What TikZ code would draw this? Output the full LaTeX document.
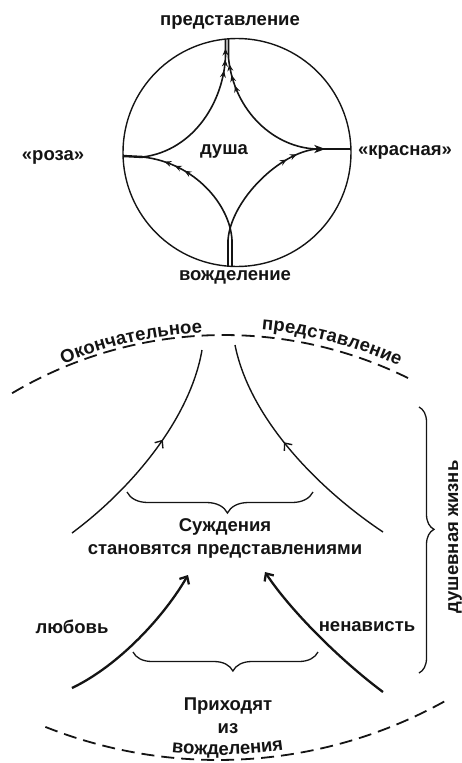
\documentclass[tikz,border=0pt]{standalone}
\usepackage{fontspec}
\setmainfont{Liberation Sans}
\usetikzlibrary{arrows.meta, calc, decorations.markings, decorations.pathreplacing, decorations.text}
\newcommand\arcfont{\fontsize{18.5}{22}\selectfont\bfseries}

\begin{document}
\begin{tikzpicture}[x=1pt, y=-1pt,
    % Styles
    word/.style={
        font=\fontsize{18.5}{23}\selectfont\bfseries,
        text=ink, inner sep=0pt, align=center
    },
    ring/.style={draw=ink, line width=1.4pt},
    flow/.style={draw=ink, line width=1.6pt},
    stub/.style={draw=ink, line width=2.4pt},
    feather/.style={
        postaction={decorate, decoration={markings,
            mark=between positions #1 step 0.07 with
                {\arrow[ink, line width=1.1pt]{Stealth[length=7pt, width=6pt, inset=2.5pt]}}}}
    },
    thin/.style={draw=ink, line width=1.4pt},
    heavy/.style={
        draw=ink, line width=2.3pt,
        -{Straight Barb[length=6pt, width=11pt]}
    },
    midarrow/.style={
        postaction={decorate, decoration={markings,
            mark=at position #1 with
                {\arrow[ink, line width=1.4pt]{Straight Barb[length=6pt, width=10pt]}}}}
    },
    rim/.style={draw=ink, line width=1.8pt, dash pattern=on 13pt off 7pt},
    arctext/.style={
        decorate, decoration={text along path, text align=center,
            text color=ink, raise=#1}
    },
    curly/.style={
        draw=ink, line width=1.3pt, decorate,
        decoration={brace, amplitude=#1, aspect=0.46}
    },
]
% Define colors
\definecolor{ink}{RGB}{20,20,20}

\useasboundingbox (0,0) rectangle (461,763);

% ---------- soul circle ----------
\coordinate (ringc) at (237,152.5);
\coordinate (topA) at (225.5,39);
\coordinate (topB) at (228.5,39);
\coordinate (leftrim) at (123,156);
\coordinate (leftin) at (143,157);
\coordinate (rightrim) at (350.5,149);
\coordinate (rightin) at (317,149);
\coordinate (botA) at (228,266);
\coordinate (botB) at (232,266);

\draw[ring] (ringc) circle[radius=114];

% cusps on the rim
\draw[stub] (leftrim) -- (leftin);
\draw[stub, postaction={decorate, decoration={markings,
    mark=at position 0.25 with {\arrow[ink]{Stealth[length=11pt, width=8pt, inset=3pt]}}}}]
    (rightin) -- (rightrim);

% four inner arcs
\draw[flow, feather={0.72 and 0.9}] (botB) -- (232,240)
    .. controls (230,205) and (195,163) .. (leftin);
\draw[flow, feather={0.8 and 0.88}] (botA) -- (228,240)
    .. controls (231,200) and (280,152) .. (rightin);
\draw[flow, feather={0.8 and 0.95}] (leftin)
    .. controls (195,150) and (224,100) .. (225.5,56) -- (topA);
\draw[flow, feather={0.7 and 0.85}] (rightin)
    .. controls (275,148) and (234,112) .. (228.5,58) -- (topB);

% labels
\node[word] (title) at (230,22) {представление};
\node[word] (rose) at (53,157) {«роза»};
\node[word] (red) at (405,152) {«красная»};
\node[word] (soul) at (224,151) {душа};
\node[word] (desire) at (235,277) {вожделение};

% ---------- soul life ----------
\coordinate (topc) at (224,750);
\coordinate (botc) at (218,293);

% upper dashed arc with text
\draw[rim] ($(topc)+(-120.7:415)$) arc[start angle=-120.7, end angle=-63.1, radius=415];
\path[arctext=3pt, decoration={text={|\arcfont|Окончательное}}]
    ($(topc)+(-117:415)$) arc[start angle=-117, end angle=-88.6, radius=415];
\path[arctext=7pt, decoration={text={|\arcfont|представление}}]
    ($(topc)+(-89:415)$) arc[start angle=-89, end angle=-61.4, radius=415];

% lower dashed arc with text
\draw[rim] ($(botc)+(111.7:467)$) arc[start angle=111.7, end angle=60.6, radius=467];
\path[arctext=5pt, decoration={text={|\arcfont|вожделения}}]
    ($(botc)+(100:467)$) arc[start angle=100, end angle=77.6, radius=467];

% rising curves
\coordinate (ulS) at (72,533);
\coordinate (ulE) at (202,350);
\coordinate (urS) at (383,532);
\coordinate (urE) at (235,345);
\coordinate (llS) at (72,688);
\coordinate (llE) at (188,575);
\coordinate (lrS) at (383,692);
\coordinate (lrE) at (265,572);

\draw[thin, midarrow=0.57] (ulS) .. controls (130,490) and (190,420) .. (ulE);
\draw[thin, midarrow=0.55] (urS) .. controls (320,490) and (250,420) .. (urE);
\draw[heavy] (llS) .. controls (120,665) and (165,615) .. (llE);
\draw[heavy] (lrS) .. controls (340,660) and (290,610) .. (lrE);

% braces
\draw[curly=21pt] (313,492) -- (127,492);
\draw[curly=19pt] (318,652) -- (133,652);
\draw[curly=15pt] (419,407) -- (419,673);

% labels
\node[word] (judge) at (225,538.5) {Суждения\\становятся представлениями};
\node[word] (love) at (72,627) {любовь};
\node[word] (hate) at (367,627) {ненависть};
\node[word] (come) at (228,716) {Приходят\\из};
\node[word, rotate=90] (life) at (455,537) {душевная жизнь};

\end{tikzpicture}
\end{document}
